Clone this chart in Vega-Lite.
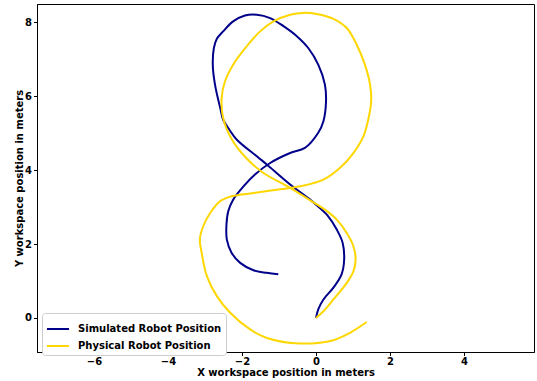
{
  "$schema": "https://vega.github.io/schema/vega-lite/v6.json",
  "width": 497,
  "height": 348,
  "autosize": {"type": "none"},
  "padding": {"left": 37, "top": 4, "right": 3, "bottom": 29},
  "background": "white",
  "config": {
    "view": {"stroke": "black", "strokeWidth": 1},
    "font": "DejaVu Sans",
    "axis": {
      "grid": false,
      "domainColor": "black",
      "tickColor": "black",
      "tickSize": 3.5,
      "labelFont": "DejaVu Sans",
      "labelFontSize": 10,
      "labelFontWeight": "bold",
      "labelColor": "black",
      "titleFont": "DejaVu Sans",
      "titleFontSize": 10,
      "titleFontWeight": "bold",
      "titleColor": "black"
    }
  },
  "datasets": {
    "paths": [
      {"series": "Simulated Robot Position", "i": 0, "x": 0.0, "y": 0.0},
      {"series": "Simulated Robot Position", "i": 1, "x": 0.06, "y": 0.23},
      {"series": "Simulated Robot Position", "i": 2, "x": 0.2, "y": 0.5},
      {"series": "Simulated Robot Position", "i": 3, "x": 0.47, "y": 0.82},
      {"series": "Simulated Robot Position", "i": 4, "x": 0.69, "y": 1.18},
      {"series": "Simulated Robot Position", "i": 5, "x": 0.76, "y": 1.58},
      {"series": "Simulated Robot Position", "i": 6, "x": 0.72, "y": 2.03},
      {"series": "Simulated Robot Position", "i": 7, "x": 0.56, "y": 2.39},
      {"series": "Simulated Robot Position", "i": 8, "x": 0.33, "y": 2.75},
      {"series": "Simulated Robot Position", "i": 9, "x": 0.15, "y": 2.93},
      {"series": "Simulated Robot Position", "i": 10, "x": -0.16, "y": 3.2},
      {"series": "Simulated Robot Position", "i": 11, "x": -0.7, "y": 3.61},
      {"series": "Simulated Robot Position", "i": 12, "x": -1.33, "y": 4.15},
      {"series": "Simulated Robot Position", "i": 13, "x": -1.56, "y": 4.34},
      {"series": "Simulated Robot Position", "i": 14, "x": -2.14, "y": 4.82},
      {"series": "Simulated Robot Position", "i": 15, "x": -2.34, "y": 5.09},
      {"series": "Simulated Robot Position", "i": 16, "x": -2.51, "y": 5.36},
      {"series": "Simulated Robot Position", "i": 17, "x": -2.58, "y": 5.64},
      {"series": "Simulated Robot Position", "i": 18, "x": -2.73, "y": 6.31},
      {"series": "Simulated Robot Position", "i": 19, "x": -2.79, "y": 6.85},
      {"series": "Simulated Robot Position", "i": 20, "x": -2.76, "y": 7.3},
      {"series": "Simulated Robot Position", "i": 21, "x": -2.68, "y": 7.55},
      {"series": "Simulated Robot Position", "i": 22, "x": -2.51, "y": 7.75},
      {"series": "Simulated Robot Position", "i": 23, "x": -2.24, "y": 8.02},
      {"series": "Simulated Robot Position", "i": 24, "x": -1.92, "y": 8.18},
      {"series": "Simulated Robot Position", "i": 25, "x": -1.6, "y": 8.2},
      {"series": "Simulated Robot Position", "i": 26, "x": -1.24, "y": 8.11},
      {"series": "Simulated Robot Position", "i": 27, "x": -0.88, "y": 7.89},
      {"series": "Simulated Robot Position", "i": 28, "x": -0.52, "y": 7.62},
      {"series": "Simulated Robot Position", "i": 29, "x": -0.21, "y": 7.3},
      {"series": "Simulated Robot Position", "i": 30, "x": 0.06, "y": 6.85},
      {"series": "Simulated Robot Position", "i": 31, "x": 0.24, "y": 6.31},
      {"series": "Simulated Robot Position", "i": 32, "x": 0.27, "y": 5.86},
      {"series": "Simulated Robot Position", "i": 33, "x": 0.2, "y": 5.32},
      {"series": "Simulated Robot Position", "i": 34, "x": 0.06, "y": 5.01},
      {"series": "Simulated Robot Position", "i": 35, "x": -0.3, "y": 4.6},
      {"series": "Simulated Robot Position", "i": 36, "x": -0.7, "y": 4.46},
      {"series": "Simulated Robot Position", "i": 37, "x": -1.24, "y": 4.19},
      {"series": "Simulated Robot Position", "i": 38, "x": -1.65, "y": 3.88},
      {"series": "Simulated Robot Position", "i": 39, "x": -1.96, "y": 3.56},
      {"series": "Simulated Robot Position", "i": 40, "x": -2.24, "y": 3.2},
      {"series": "Simulated Robot Position", "i": 41, "x": -2.37, "y": 2.89},
      {"series": "Simulated Robot Position", "i": 42, "x": -2.42, "y": 2.53},
      {"series": "Simulated Robot Position", "i": 43, "x": -2.41, "y": 2.12},
      {"series": "Simulated Robot Position", "i": 44, "x": -2.28, "y": 1.76},
      {"series": "Simulated Robot Position", "i": 45, "x": -2.05, "y": 1.49},
      {"series": "Simulated Robot Position", "i": 46, "x": -1.69, "y": 1.29},
      {"series": "Simulated Robot Position", "i": 47, "x": -1.33, "y": 1.22},
      {"series": "Simulated Robot Position", "i": 48, "x": -1.02, "y": 1.18},

      {"series": "Physical Robot Position", "i": 0, "x": 0.0, "y": 0.0},
      {"series": "Physical Robot Position", "i": 1, "x": 0.2, "y": 0.18},
      {"series": "Physical Robot Position", "i": 2, "x": 0.47, "y": 0.5},
      {"series": "Physical Robot Position", "i": 3, "x": 0.83, "y": 0.95},
      {"series": "Physical Robot Position", "i": 4, "x": 1.01, "y": 1.26},
      {"series": "Physical Robot Position", "i": 5, "x": 1.07, "y": 1.58},
      {"series": "Physical Robot Position", "i": 6, "x": 1.01, "y": 1.94},
      {"series": "Physical Robot Position", "i": 7, "x": 0.83, "y": 2.3},
      {"series": "Physical Robot Position", "i": 8, "x": 0.56, "y": 2.66},
      {"series": "Physical Robot Position", "i": 9, "x": 0.24, "y": 2.93},
      {"series": "Physical Robot Position", "i": 10, "x": 0.02, "y": 3.07},
      {"series": "Physical Robot Position", "i": 11, "x": -0.7, "y": 3.52},
      {"series": "Physical Robot Position", "i": 12, "x": -1.42, "y": 3.92},
      {"series": "Physical Robot Position", "i": 13, "x": -1.9, "y": 4.34},
      {"series": "Physical Robot Position", "i": 14, "x": -2.27, "y": 4.82},
      {"series": "Physical Robot Position", "i": 15, "x": -2.51, "y": 5.41},
      {"series": "Physical Robot Position", "i": 16, "x": -2.55, "y": 5.95},
      {"series": "Physical Robot Position", "i": 17, "x": -2.46, "y": 6.4},
      {"series": "Physical Robot Position", "i": 18, "x": -2.24, "y": 6.85},
      {"series": "Physical Robot Position", "i": 19, "x": -1.87, "y": 7.35},
      {"series": "Physical Robot Position", "i": 20, "x": -1.51, "y": 7.75},
      {"series": "Physical Robot Position", "i": 21, "x": -1.15, "y": 8.02},
      {"series": "Physical Robot Position", "i": 22, "x": -0.7, "y": 8.2},
      {"series": "Physical Robot Position", "i": 23, "x": -0.34, "y": 8.25},
      {"series": "Physical Robot Position", "i": 24, "x": 0.02, "y": 8.22},
      {"series": "Physical Robot Position", "i": 25, "x": 0.47, "y": 8.09},
      {"series": "Physical Robot Position", "i": 26, "x": 0.83, "y": 7.84},
      {"series": "Physical Robot Position", "i": 27, "x": 1.1, "y": 7.39},
      {"series": "Physical Robot Position", "i": 28, "x": 1.32, "y": 6.85},
      {"series": "Physical Robot Position", "i": 29, "x": 1.46, "y": 6.31},
      {"series": "Physical Robot Position", "i": 30, "x": 1.49, "y": 5.86},
      {"series": "Physical Robot Position", "i": 31, "x": 1.41, "y": 5.36},
      {"series": "Physical Robot Position", "i": 32, "x": 1.28, "y": 4.91},
      {"series": "Physical Robot Position", "i": 33, "x": 1.01, "y": 4.46},
      {"series": "Physical Robot Position", "i": 34, "x": 0.65, "y": 4.06},
      {"series": "Physical Robot Position", "i": 35, "x": 0.2, "y": 3.74},
      {"series": "Physical Robot Position", "i": 36, "x": -0.43, "y": 3.56},
      {"series": "Physical Robot Position", "i": 37, "x": -1.06, "y": 3.47},
      {"series": "Physical Robot Position", "i": 38, "x": -1.69, "y": 3.38},
      {"series": "Physical Robot Position", "i": 39, "x": -2.28, "y": 3.29},
      {"series": "Physical Robot Position", "i": 40, "x": -2.59, "y": 3.16},
      {"series": "Physical Robot Position", "i": 41, "x": -2.86, "y": 2.84},
      {"series": "Physical Robot Position", "i": 42, "x": -3.05, "y": 2.48},
      {"series": "Physical Robot Position", "i": 43, "x": -3.14, "y": 2.12},
      {"series": "Physical Robot Position", "i": 44, "x": -3.09, "y": 1.76},
      {"series": "Physical Robot Position", "i": 45, "x": -2.95, "y": 1.13},
      {"series": "Physical Robot Position", "i": 46, "x": -2.68, "y": 0.59},
      {"series": "Physical Robot Position", "i": 47, "x": -2.32, "y": 0.14},
      {"series": "Physical Robot Position", "i": 48, "x": -1.78, "y": -0.31},
      {"series": "Physical Robot Position", "i": 49, "x": -1.33, "y": -0.54},
      {"series": "Physical Robot Position", "i": 50, "x": -0.43, "y": -0.69},
      {"series": "Physical Robot Position", "i": 51, "x": 0.47, "y": -0.6},
      {"series": "Physical Robot Position", "i": 52, "x": 0.92, "y": -0.4},
      {"series": "Physical Robot Position", "i": 53, "x": 1.37, "y": -0.11}
    ]
  },
  "data": {"name": "paths"},
  "encoding": {
    "x": {
      "field": "x", "type": "quantitative",
      "scale": {"domain": [-7.54, 5.89], "nice": false, "zero": false},
      "axis": {"values": [-6, -4, -2, 0, 2, 4], "format": "d", "labelPadding": 1, "titlePadding": 1, "title": "X workspace position in meters"}
    },
    "y": {
      "field": "y", "type": "quantitative",
      "scale": {"domain": [-0.92, 8.49], "nice": false, "zero": false},
      "axis": {"values": [0, 2, 4, 6, 8], "format": "d", "labelPadding": 2, "titlePadding": 0, "title": "Y workspace position in meters"}
    },
    "color": {
      "field": "series", "type": "nominal",
      "scale": {"domain": ["Simulated Robot Position", "Physical Robot Position"], "range": ["#00008b", "#ffd700"]},
      "legend": {
        "title": null,
        "orient": "none",
        "legendX": 5,
        "legendY": 309,
        "symbolType": "stroke",
        "symbolSize": 484,
        "symbolStrokeWidth": 2,
        "labelFont": "DejaVu Sans",
        "labelFontSize": 10,
        "labelFontWeight": "bold",
        "labelColor": "black",
        "labelOffset": 8,
        "padding": 4,
        "rowPadding": -8,
        "fillColor": "white",
        "strokeColor": "#cccccc",
        "cornerRadius": 3
      }
    },
    "order": {"field": "i", "type": "quantitative"}
  },
  "layer": [
    {
      "transform": [{"filter": "datum.series === 'Simulated Robot Position'"}],
      "mark": {"type": "line", "strokeWidth": 2, "interpolate": "catmull-rom", "clip": true}
    },
    {
      "transform": [{"filter": "datum.series === 'Physical Robot Position'"}],
      "mark": {"type": "line", "strokeWidth": 2, "interpolate": "catmull-rom", "clip": true}
    }
  ]
}
